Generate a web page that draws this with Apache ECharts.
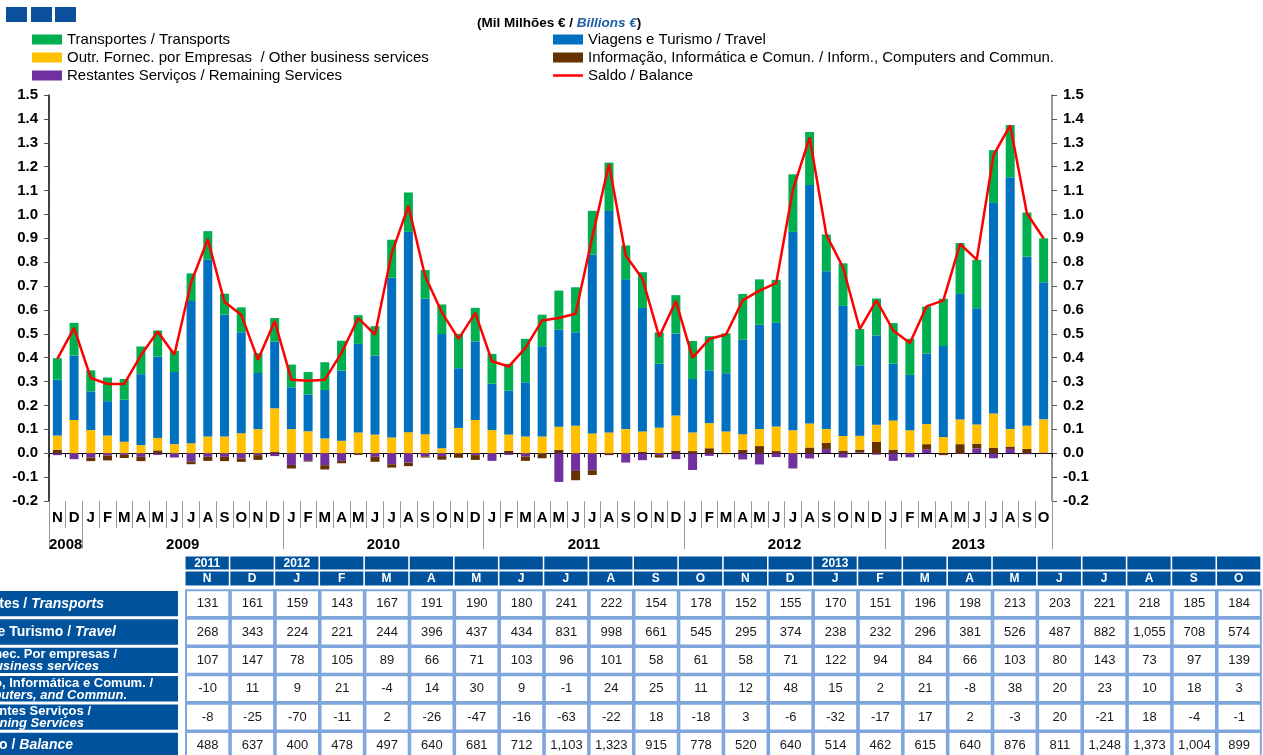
<!DOCTYPE html>
<html>
<head>
<meta charset="utf-8">
<script src="https://cdn.jsdelivr.net/npm/echarts@6/dist/echarts.min.js"></script>
<style>
html, body { margin: 0; padding: 0; background: #fff; }
#chart { width: 1263px; height: 755px; }
</style>
</head>
<body>
<div id="chart"></div>
<script>
// months Nov 2008 .. Oct 2013
const months = [
  'N', 'D',
  'J', 'F', 'M', 'A', 'M', 'J', 'J', 'A', 'S', 'O', 'N', 'D',
  'J', 'F', 'M', 'A', 'M', 'J', 'J', 'A', 'S', 'O', 'N', 'D',
  'J', 'F', 'M', 'A', 'M', 'J', 'J', 'A', 'S', 'O', 'N', 'D',
  'J', 'F', 'M', 'A', 'M', 'J', 'J', 'A', 'S', 'O', 'N', 'D',
  'J', 'F', 'M', 'A', 'M', 'J', 'J', 'A', 'S', 'O'
];
const years = ['2008', '2009', '2010', '2011', '2012', '2013'];
const monthsPerYear = [2, 12, 12, 12, 12, 10];

// values in millions of euros
const transports = [
  90, 137,
  88, 99, 87, 116, 109, 89, 116, 119, 88, 104, 83, 98,
  95, 94, 116, 125, 120, 123, 159, 165, 120, 124, 144, 141,
  125, 112, 182, 132, 164, 188, 183, 203, 142, 150, 131, 161,
  159, 143, 167, 191, 190, 180, 241, 222, 154, 178, 152, 155,
  170, 151, 196, 198, 213, 203, 221, 218, 185, 184
];
const travel = [
  234, 270,
  162, 144, 176, 297, 341, 302, 595, 741, 510, 423, 235, 280,
  175, 154, 203, 294, 371, 331, 669, 839, 567, 478, 250, 329,
  194, 184, 227, 378, 406, 392, 749, 927, 627, 517, 268, 343,
  224, 221, 244, 396, 437, 434, 831, 998, 661, 545, 295, 374,
  238, 232, 296, 381, 526, 487, 882, 1055, 708, 574
];
const otherBusiness = [
  59, 139,
  97, 74, 48, 34, 52, 38, 42, 70, 70, 84, 101, 183,
  101, 92, 62, 52, 87, 78, 66, 88, 80, 21, 106, 139,
  97, 68, 70, 70, 97, 115, 83, 87, 101, 85, 107, 147,
  78, 105, 89, 66, 71, 103, 96, 101, 58, 61, 58, 71,
  122, 94, 84, 66, 103, 80, 143, 73, 97, 139
];
const infoComm = [
  15, 0,
  -15, -20, -13, -18, 12, 0, -11, -17, -18, -14, -20, 5,
  -15, -3, -18, -10, -4, -21, -14, -15, -5, -15, -16, -20,
  0, 10, -18, -18, 14, -39, -20, -5, 0, 6, -10, 11,
  9, 21, -4, 14, 30, 9, -1, 24, 25, 11, 12, 48,
  15, 2, 21, -8, 38, 20, 23, 10, 18, 3
];
const remaining = [
  -8, -25,
  -18, -10, -7, -15, -7, -18, -35, -15, -15, -22, -8, -12,
  -49, -32, -50, -32, -3, -15, -46, -39, -13, -12, -3, -8,
  -32, -7, -14, -3, -120, -74, -71, -3, -39, -29, -8, -25,
  -70, -11, 2, -26, -47, -16, -63, -22, 18, -18, 3, -6,
  -32, -17, 17, 2, -3, 20, -21, 18, -4, -1
];
const balance = [
  395, 525,
  315, 290, 290, 410, 510, 412, 715, 896, 633, 580, 391, 553,
  308, 304, 308, 420, 566, 497, 836, 1036, 741, 590, 479, 588,
  385, 363, 441, 556, 566, 584, 905, 1211, 828, 731, 488, 637,
  400, 478, 497, 640, 681, 712, 1103, 1323, 915, 778, 520, 640,
  514, 462, 615, 640, 876, 811, 1248, 1373, 1004, 899
];

// table: last 24 months
const tableStart = 36;
const tableYearRow = ['2011', '', '2012', '', '', '', '', '', '', '', '', '', '', '', '2013', '', '', '', '', '', '', '', '', ''];

const FONT = 'Liberation Sans, Arial, sans-serif';
const toB = arr => arr.map(v => v / 1000);

const names = {
  transports: 'Transportes / Transports',
  travel: 'Viagens e Turismo / Travel',
  other: 'Outr. Fornec. por Empresas  / Other business services',
  info: 'Informação, Informática e Comun. / Inform., Computers and Commun.',
  remaining: 'Restantes Serviços / Remaining Services',
  balance: 'Saldo / Balance'
};

// year separators / label positions on a 0..60 scale
const yearBounds = [0];
monthsPerYear.forEach(n => yearBounds.push(yearBounds[yearBounds.length - 1] + n));
const yearCenters = monthsPerYear.map((n, i) => yearBounds[i] + n / 2);

// ----- table drawn with graphic elements
const g = [];
const blue = '#00529c';
[6, 31, 55].forEach(x => {
  g.push({ type: 'rect', shape: { x: x, y: 7, width: 21, height: 15 }, style: { fill: '#0b509c' } });
});

const colLeft = i => 185.5 + i * 44.85;
const colW = 43.3;
const rowTop = r => 589.5 + r * 28.35;
const rowH = 28.35;

const tableRows = [transports, travel, otherBusiness, infoComm, remaining, balance];
const tableMonths = months.slice(tableStart);

tableMonths.forEach((m, i) => {
  const x = colLeft(i);
  g.push({ type: 'rect', shape: { x: x, y: 556.5, width: colW, height: 13 }, style: { fill: blue } });
  g.push({ type: 'rect', shape: { x: x, y: 571.5, width: colW, height: 14 }, style: { fill: blue } });
  if (tableYearRow[i]) {
    g.push({ type: 'text', style: { text: tableYearRow[i], x: x + colW / 2, y: 563.5, align: 'center', verticalAlign: 'middle', fill: '#fff', font: 'bold 12px ' + FONT } });
  }
  g.push({ type: 'text', style: { text: m, x: x + colW / 2, y: 578.5, align: 'center', verticalAlign: 'middle', fill: '#fff', font: 'bold 12px ' + FONT } });
});

tableRows.forEach((arr, r) => {
  const y = rowTop(r);
  g.push({ type: 'rect', shape: { x: 0, y: y + 1.5, width: 178, height: rowH - 3 }, style: { fill: blue } });
  arr.slice(tableStart).forEach((v, i) => {
    const x = colLeft(i);
    g.push({ type: 'rect', shape: { x: x + 0.5, y: y + 0.8, width: colW, height: rowH - 1.6 }, style: { fill: '#fff', stroke: '#7ea6dc', lineWidth: 2 } });
    g.push({ type: 'text', style: { text: v.toLocaleString('en-US'), x: x + colW / 2 + 0.5, y: y + rowH / 2, align: 'center', verticalAlign: 'middle', fill: '#1a1a1a', font: '13px ' + FONT } });
  });
});

// row labels (cut off at the left edge as in the source)
const rowLabelLines = [
  [{ a: 'Transportes / ', b: 'Transports', right: 104, dy: 0, size: 14 }],
  [{ a: 'Viagens e Turismo / ', b: 'Travel', right: 116, dy: 0, size: 14 }],
  [{ a: 'Outr. Fornec. Por empresas /', b: '', right: 117, dy: -5.5, size: 13 }, { a: '', b: 'Other business services', right: 99, dy: 6.5, size: 13 }],
  [{ a: 'Informação, Informática e Comum. /', b: '', right: 153, dy: -5.5, size: 13 }, { a: '', b: 'Inform., Computers, and Commun.', right: 127, dy: 6.5, size: 13 }],
  [{ a: 'Restantes Serviços /', b: '', right: 91, dy: -5.5, size: 13 }, { a: '', b: 'Remaining Services', right: 84, dy: 6.5, size: 13 }],
  [{ a: 'Saldo / ', b: 'Balance', right: 73, dy: 0, size: 14 }]
];
rowLabelLines.forEach((lines, r) => {
  const cy = rowTop(r) + rowH / 2;
  lines.forEach(l => {
    let t = '';
    if (l.a) t += '{a|' + l.a + '}';
    if (l.b) t += '{b|' + l.b + '}';
    g.push({
      type: 'text',
      style: {
        text: t, x: l.right, y: cy + l.dy, align: 'right', verticalAlign: 'middle',
        rich: {
          a: { fontFamily: FONT, fontSize: l.size, lineHeight: l.size, fontWeight: 'bold', fill: '#fff', color: '#fff' },
          b: { fontFamily: FONT, fontSize: l.size, lineHeight: l.size, fontWeight: 'bold', fontStyle: 'italic', fill: '#fff', color: '#fff' }
        }
      }
    });
  });
});

const barSeries = (name, data, color) => ({
  name: name,
  type: 'bar',
  stack: 'svc',
  barWidth: 9,
  data: toB(data),
  itemStyle: { color: color },
  emphasis: { disabled: true }
});

const chart = echarts.init(document.getElementById('chart'));
const option = {
  animation: false,
  textStyle: { fontFamily: FONT },
  title: {
    text: '(Mil Milhões € / {b|Billions €})',
    left: 472,
    top: 11,
    textStyle: {
      fontFamily: FONT, fontSize: 13.5, fontWeight: 'bold', color: '#000',
      rich: { b: { fontFamily: FONT, fontSize: 13.5, fontWeight: 'bold', fontStyle: 'italic', color: '#1f5fa8' } }
    }
  },
  legend: [
    {
      orient: 'vertical', left: 27, top: 27, itemWidth: 30, itemHeight: 10, itemGap: 3,
      selectedMode: false,
      textStyle: { fontSize: 15, lineHeight: 15, color: '#000' },
      data: [
        { name: names.transports, icon: 'rect' },
        { name: names.other, icon: 'rect' },
        { name: names.remaining, icon: 'rect' }
      ]
    },
    {
      orient: 'vertical', left: 548, top: 27, itemWidth: 30, itemHeight: 10, itemGap: 3,
      selectedMode: false,
      textStyle: { fontSize: 15, lineHeight: 15, color: '#000' },
      data: [
        { name: names.travel, icon: 'rect' },
        { name: names.info, icon: 'rect' },
        { name: names.balance, icon: 'path://M0,0 L30,0 L30,2.5 L0,2.5 Z' }
      ]
    }
  ],
  grid: { left: 49, right: 211, top: 95, bottom: 254 },
  xAxis: [
    {
      type: 'category', data: months,
      axisLine: { onZero: true, lineStyle: { color: '#000', width: 1 } },
      axisTick: { show: true, interval: 0, length: 4, lineStyle: { color: '#000' } },
      axisLabel: { show: false },
      splitLine: { show: false }
    },
    {
      type: 'category', data: months, position: 'bottom',
      axisLine: { show: false, onZero: false },
      axisTick: { show: true, interval: 0, length: 27, lineStyle: { color: '#999' } },
      axisLabel: { interval: 0, margin: 9, fontSize: 15, fontWeight: 'bold', color: '#000' },
      splitLine: { show: false }
    },
    {
      type: 'value', min: 0, max: 60, position: 'bottom',
      axisLine: { show: false, onZero: false },
      splitLine: { show: false },
      axisTick: { show: true, customValues: yearBounds, length: 48, lineStyle: { color: '#999' } },
      axisLabel: {
        customValues: yearCenters, margin: 36, fontSize: 15, fontWeight: 'bold', color: '#000',
        formatter: v => years[yearCenters.indexOf(v)]
      }
    }
  ],
  yAxis: [
    {
      type: 'value', min: -0.2, max: 1.5, interval: 0.1, position: 'left',
      axisLine: { show: true, onZero: false, lineStyle: { color: '#000', width: 1.5 } },
      axisTick: { show: true, length: 5, lineStyle: { color: '#555' } },
      axisLabel: { margin: 11, fontSize: 15, fontWeight: 'bold', color: '#000', formatter: v => v.toFixed(1) },
      splitLine: { show: false }
    },
    {
      type: 'value', min: -0.2, max: 1.5, interval: 0.1, position: 'right',
      axisLine: { show: true, onZero: false, lineStyle: { color: '#777', width: 1.5 } },
      axisTick: { show: true, length: 5, lineStyle: { color: '#555' } },
      axisLabel: { margin: 11, fontSize: 15, fontWeight: 'bold', color: '#000', formatter: v => v.toFixed(1) },
      splitLine: { show: false }
    }
  ],
  series: [
    barSeries(names.remaining, remaining, '#7030a0'),
    barSeries(names.info, infoComm, '#663300'),
    barSeries(names.other, otherBusiness, '#ffc000'),
    barSeries(names.travel, travel, '#0070c0'),
    barSeries(names.transports, transports, '#00b050'),
    {
      name: names.balance,
      type: 'line',
      data: toB(balance),
      symbol: 'none',
      z: 5,
      color: '#ff0000',
      lineStyle: { color: '#ff0000', width: 2.5 },
      emphasis: { disabled: true }
    }
  ],
  graphic: { elements: g }
};
chart.setOption(option);
</script>
</body>
</html>
